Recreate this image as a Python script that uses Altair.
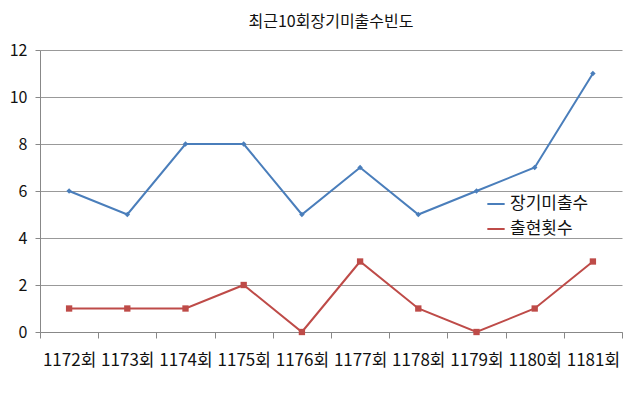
import altair as alt
import pandas as pd

rounds = ["1172회", "1173회", "1174회", "1175회", "1176회", "1177회", "1178회", "1179회", "1180회", "1181회"]
long_missing = [6, 5, 8, 8, 5, 7, 5, 6, 7, 11]
appear_count = [1, 1, 1, 2, 0, 3, 1, 0, 1, 3]
series_names = ["장기미출수", "출현횟수"]
colors = ["#4A7EBB", "#BE4B48"]

rows = []
for r, a, b in zip(rounds, long_missing, appear_count):
    rows.append({"round": r, "series": series_names[0], "value": a})
    rows.append({"round": r, "series": series_names[1], "value": b})
df = pd.DataFrame(rows)

FONT = "Noto Sans CJK KR"

base = alt.Chart(df).encode(
    x=alt.X("round:N", sort=rounds, title=None,
            scale=alt.Scale(paddingInner=0, paddingOuter=0),
            axis=alt.Axis(labelAngle=0, tickBand="extent", labelFontSize=17, labelColor="#111",
                          labelFont=FONT, domainColor="#888", tickColor="#888", tickSize=6,
                          labelPadding=14, grid=False)),
    y=alt.Y("value:Q", title=None,
            scale=alt.Scale(domain=[0, 12], nice=False),
            axis=alt.Axis(values=[0, 2, 4, 6, 8, 10, 12], labelFontSize=16, labelColor="#111",
                          labelFont=FONT, domainColor="#888", tickColor="#888", tickSize=5,
                          gridColor="#999", gridWidth=1, labelPadding=8)),
    color=alt.Color("series:N", sort=series_names,
                    scale=alt.Scale(domain=series_names, range=colors),
                    legend=alt.Legend(title=None, orient="none", legendX=446, legendY=144,
                                      labelFontSize=17, labelFont=FONT, labelColor="#111",
                                      symbolType="stroke", symbolStrokeWidth=2, symbolSize=300,
                                      rowPadding=7)),
)

lines = base.mark_line(strokeWidth=2)
points_d = base.transform_filter(alt.datum.series == series_names[0]).mark_point(
    shape="diamond", filled=True, size=30, opacity=1)
points_s = base.transform_filter(alt.datum.series == series_names[1]).mark_point(
    shape="square", filled=True, size=40, opacity=1)

chart = alt.layer(lines, points_d, points_s).properties(
    width=582, height=282,
    title=alt.Title("최근10회장기미출수빈도", fontSize=16, font=FONT, fontWeight="normal",
                    color="#111", offset=12),
    autosize=alt.AutoSizeParams(type="none"),
    padding={"left": 32, "top": 42, "right": 10, "bottom": 50},
).configure_view(stroke=None)

chart.save("out.html", embed_options={"renderer": "svg", "actions": False})
